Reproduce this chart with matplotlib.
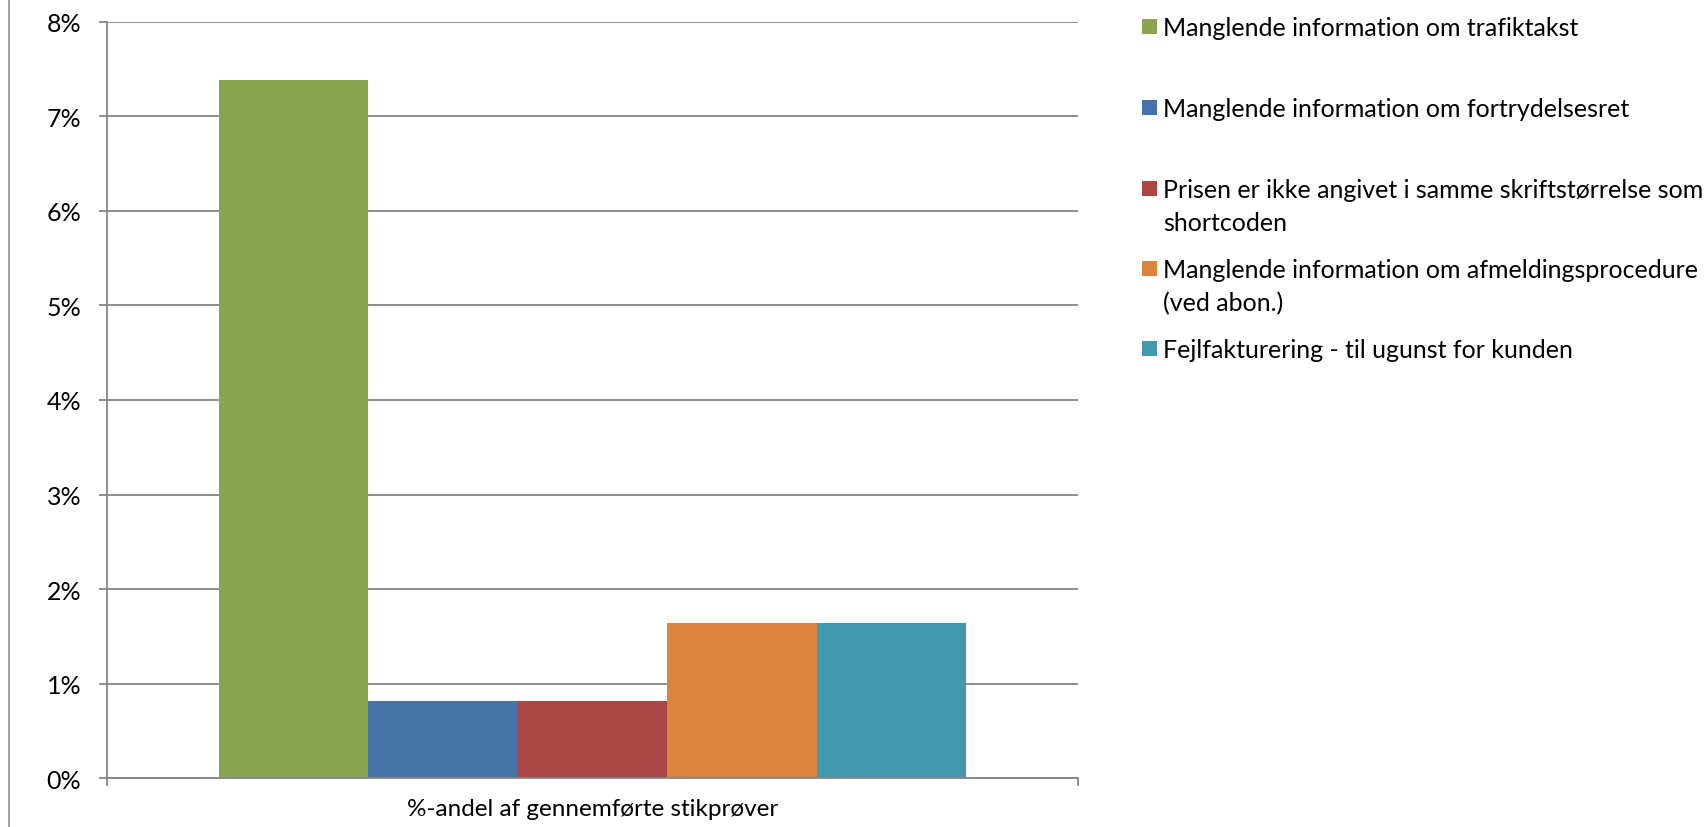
import numpy as np
import matplotlib
matplotlib.use("Agg")
from matplotlib import pyplot as plt
from matplotlib.patches import Rectangle
from matplotlib.lines import Line2D
from matplotlib.ticker import FuncFormatter

plt.rcParams['font.family'] = ['Lato', 'DejaVu Sans']

category = "%-andel af gennemførte stikprøver"
series_names = [
    "Manglende information om trafiktakst",
    "Manglende information om fortrydelsesret",
    "Prisen er ikke angivet i samme skriftstørrelse som\nshortcoden",
    "Manglende information om afmeldingsprocedure\n(ved abon.)",
    "Fejlfakturering - til ugunst for kunden",
]
values = [7.38, 0.82, 0.82, 1.64, 1.64]
colors = ["#8AA550", "#4572A7", "#AA4643", "#DB843D", "#4198AF"]

W, H = 1705, 828
fig = plt.figure(figsize=(W / 100, H / 100), dpi=100)
ax = fig.add_axes([107 / W, (H - 779.3) / H, 971 / W, (779.3 - 22.7) / H])

grid_col = "#868686"
bar_w = 1 / 6.5
for i, (v, c) in enumerate(zip(values, colors)):
    ax.bar((i - 2) * bar_w, v, width=bar_w, color=c, zorder=2, linewidth=0)

ax.set_xlim(-0.5, 0.5)
ax.set_ylim(0, 8)
ax.set_yticks(np.arange(0, 9, 1))
ax.yaxis.set_major_formatter(FuncFormatter(lambda v, p: f"{int(v)}%"))
ax.grid(axis="y", color=grid_col, linewidth=1.3, zorder=0)

ax.set_xticks([0])
ax.set_xticklabels([category])
ax.set_xticks([-0.5, 0.5], minor=True)
ax.tick_params(axis="x", which="major", length=0, pad=14, labelsize=17.5)
ax.tick_params(axis="x", which="minor", length=6, width=1.3, color=grid_col, direction="out")
ax.tick_params(axis="y", length=6, width=1.3, color=grid_col, labelsize=18, pad=12.5)

for s in ["top", "right"]:
    ax.spines[s].set_visible(False)
for s in ["left", "bottom"]:
    ax.spines[s].set_color(grid_col)
    ax.spines[s].set_linewidth(1.3)

# thin frame line on the far left
fig.add_artist(Line2D([9 / W, 9 / W], [0, 1], color="#999999", linewidth=1.3))

# legend entries laid out on the right
entry_y = [27, 108, 189, 269, 349]
line_gap = 33
for name, c, y in zip(series_names, colors, entry_y):
    fig.add_artist(Rectangle((1142 / W, 1 - (y + 7.5) / H), 15 / W, 15 / H,
                             transform=fig.transFigure, color=c, linewidth=0))
    for k, line in enumerate(name.split("\n")):
        fig.text(1163 / W, 1 - (y + 9 + k * line_gap) / H, line, fontsize=18,
                 va="baseline", ha="left", color="black")

fig.savefig("out.png", dpi=100)
